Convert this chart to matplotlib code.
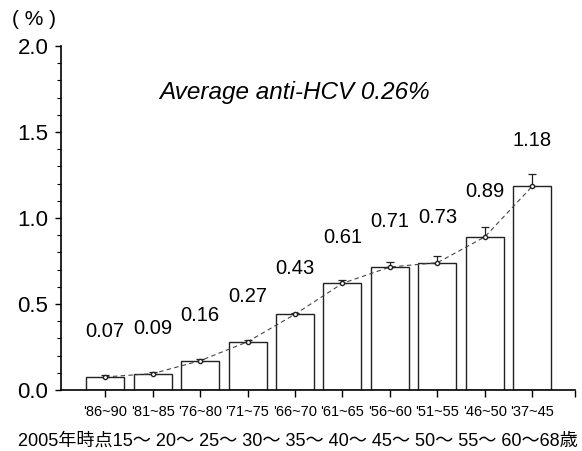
import matplotlib
matplotlib.use("Agg")
import matplotlib.pyplot as plt
from matplotlib.ticker import MultipleLocator

plt.rcParams['font.family'] = ['Liberation Sans', 'Noto Sans CJK JP', 'DejaVu Sans']

# data
cohorts = ["'86~90", "'81~85", "'76~80", "'71~75", "'66~70",
           "'61~65", "'56~60", "'51~55", "'46~50", "'37~45"]
rates = [0.07, 0.09, 0.16, 0.27, 0.43, 0.61, 0.71, 0.73, 0.89, 1.18]
bar_tops = [0.076, 0.095, 0.17, 0.28, 0.44, 0.62, 0.715, 0.74, 0.89, 1.185]
errors = [0.01, 0.01, 0.01, 0.01, 0.01, 0.02, 0.03, 0.04, 0.06, 0.07]
age_row = "2005年時点15～ 20～ 25～ 30～ 35～ 40～ 45～ 50～ 55～ 60～68歳"
title = "Average anti-HCV 0.26%"

x = list(range(1, len(cohorts) + 1))

fig = plt.figure(figsize=(5.82, 4.51), dpi=100)
ax = fig.add_axes([0.1048, 0.1353, 0.8832, 0.7627])

ax.bar(x, bar_tops, width=0.8, color='white', edgecolor='#222222', linewidth=1.0)
ax.plot(x, bar_tops, linestyle=(0, (4, 3)), color='#444444', linewidth=0.8)
ax.errorbar(x, bar_tops, yerr=[[0] * len(errors), errors], fmt='o', ms=3,
            mfc='white', mec='#222222', ecolor='#222222', elinewidth=0.9,
            capsize=3, capthick=0.9)

for xi, r, t in zip(x, rates, bar_tops):
    ax.text(xi, t + 0.265, f"{r:.2f}", ha='center', va='center', fontsize=14.5)

ax.text(5.0, 1.73, title, ha='center', va='center', fontsize=17.5, style='italic')

ax.set_xlim(0.07, 10.9)
ax.set_ylim(0, 2.0)
ax.yaxis.set_major_locator(MultipleLocator(0.5))
ax.yaxis.set_minor_locator(MultipleLocator(0.1))
ax.yaxis.set_major_formatter(matplotlib.ticker.FormatStrFormatter('%.1f'))
ax.set_xticks(x + [10.9])
ax.set_xticklabels(cohorts + [''], fontsize=10.5)
ax.tick_params(axis='y', labelsize=16, length=4, width=1, direction='out', pad=5)
ax.tick_params(axis='y', which='minor', length=3, width=0.8)
ax.tick_params(axis='x', length=5, width=1, direction='out', pad=6)
for side in ['top', 'right']:
    ax.spines[side].set_visible(False)
ax.spines['left'].set_linewidth(1.2)
ax.spines['bottom'].set_linewidth(1.2)

fig.text(0.02, 0.956, "( % )", fontsize=15, ha='left', va='center')
fig.text(0.993, 0.022, age_row, fontsize=13.1, ha='right', va='center')

fig.savefig("out.png", dpi=100)
